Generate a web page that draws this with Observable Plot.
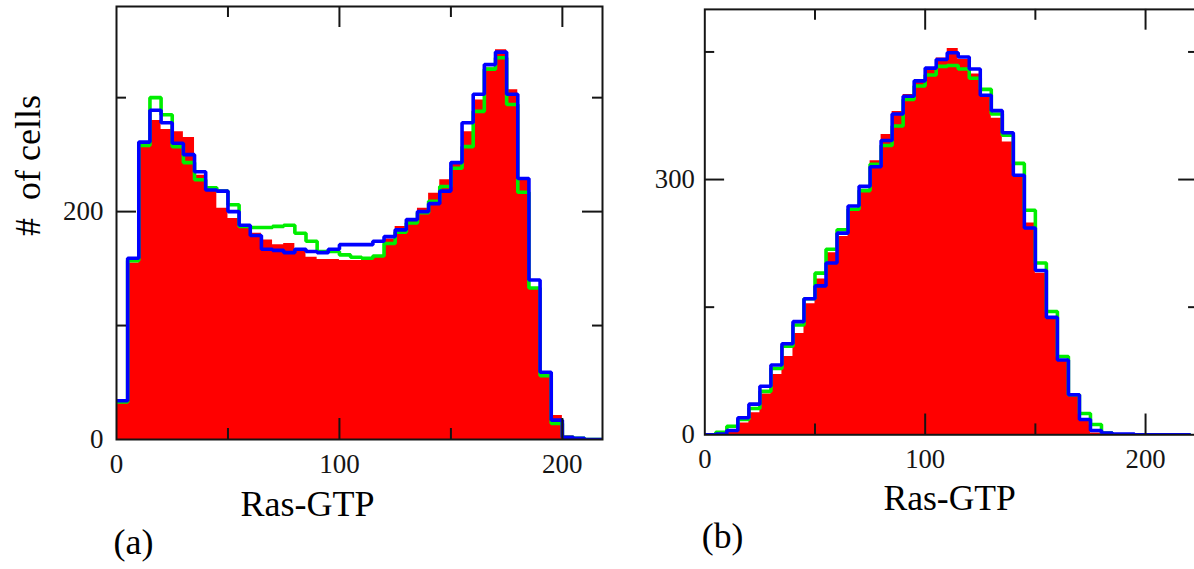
<!DOCTYPE html>
<html><head><meta charset="utf-8">
<script src="https://cdn.jsdelivr.net/npm/d3@7"></script>
<script src="https://cdn.jsdelivr.net/npm/@observablehq/plot@0.6"></script>
<style>
html,body{margin:0;padding:0;background:#fff;width:1194px;height:569px;overflow:hidden;}
#wrap{position:relative;width:1194px;height:569px;overflow:hidden;background:#fff;}
.panel{position:absolute;top:0;}
svg text{white-space:pre;font-family:"Liberation Serif","Tinos","Times New Roman","DejaVu Serif",serif !important;}
</style></head>
<body><div id="wrap"><div class="panel" id="pa" style="left:0px"></div><div class="panel" id="pb" style="left:640px"></div></div>
<script>
// Histogram bins (Ras-GTP), bin start values, and the closing edge of the last bin
const binStarts = [0,5,10,15,20,25,30,35,40,45,50,55,60,65,70,75,80,85,90,95,100,105,110,115,120,125,130,135,140,145,150,155,160,165,170,175,180,185,190,195,200,205,210,215];
const binEndEdge = 220;

// Panel (a): # of cells per bin
const aRed   = [32,155,258,280,272,270,265,232,222,203,194,188,181,175,171,172,166,160,158,158,157,157,159,160,176,187,194,203,216,228,244,270,298,326,342,307,229,133,56,21,3,1,0,0];
const aGreen = [33,157,258,300,285,257,243,228,221,218,206,187,186,186,187,188,181,174,165,165,162,160,159,161,172,182,190,199,209,222,238,257,288,325,335,294,217,133,56,14,2,1,0,0];
const aBlue  = [34,159,261,289,278,260,250,235,219,218,200,188,179,167,166,164,167,165,164,167,171,171,171,174,178,184,193,200,207,218,243,278,303,329,340,303,229,140,59,17,2,1,0,0];

// Panel (b): # of cells per bin
const bRed   = [0,0,3,14,26,48,71,92,119,154,183,214,233,263,288,322,353,380,400,414,430,443,454,441,424,398,372,344,305,249,190,136,86,47,18,2,0,0,0,0,0,0,0,0];
const bGreen = [0,3,10,18,31,51,78,104,129,160,190,218,241,265,287,318,340,363,394,410,423,433,434,430,419,406,377,352,319,264,202,145,92,47,25,12,2,0,0,0,0,0,0,0];
const bBlue  = [0,1,5,20,36,57,82,107,133,160,175,202,237,269,292,315,346,377,398,416,431,441,449,444,430,399,381,355,305,243,193,138,88,47,18,5,2,1,1,0,0,0,0,0];

// Axis ticks and labels
const aXMajor = [100,200], aXMinor = [50,150], aXLabels = [0,100,200];
const aYMajor = [200], aYMinor = [100,300], aYLabels = [0,200];
const bXMajor = [100,200], bXMinor = [50,150], bXLabels = [0,100,200];
const bYMajor = [300], bYMinor = [150,450], bYLabels = [0,300];

const xTitle = "Ras-GTP";
const yTitle = "#  of cells";
const tagA = "(a)", tagB = "(b)";

const FONT = '"Liberation Serif", Tinos, "Times New Roman", "DejaVu Serif", serif';
const INK = "#151515";

function steps(vals) {
  const pts = binStarts.map((x, i) => ({x, y: vals[i]}));
  pts.push({x: binEndEdge, y: vals[vals.length - 1]});
  return pts;
}

function panel(o) {
  const H = o.height - o.mt - o.mb;
  const xs = d3.scaleLinear().domain(o.xDomain).range([o.ml, o.width - o.mr]);
  const W = xs(o.xDomain[1]) - xs(o.xDomain[0]);
  const tk = {stroke: INK, strokeWidth: 2};
  const tx = {fontFamily: FONT};
  const marks = [
    Plot.areaY(steps(o.red), {x: "x", y: "y", curve: "step-after", fill: "#ff0000", clip: true}),
    Plot.lineY(steps(o.green), {x: "x", y: "y", curve: "step-after", stroke: "#00ee00", strokeWidth: 3.6, strokeLinejoin: "miter", clip: true}),
    Plot.lineY(steps(o.blue), {x: "x", y: "y", curve: "step-after", stroke: "#0000ff", strokeWidth: 3.6, strokeLinejoin: "miter", clip: true}),
    Plot.tickX(o.xMajor, {x: d => d, insetTop: H - 21, ...tk}),
    Plot.tickX(o.xMajor, {x: d => d, insetBottom: H - 21, ...tk}),
    Plot.tickX(o.xMinor, {x: d => d, insetTop: H - 11, ...tk}),
    Plot.tickX(o.xMinor, {x: d => d, insetBottom: H - 11, ...tk}),
    Plot.tickY(o.yMajor, {y: d => d, insetRight: W - 20, ...tk}),
    Plot.tickY(o.yMajor, {y: d => d, insetLeft: W - 20, ...tk}),
    Plot.tickY(o.yMinor, {y: d => d, insetRight: W - 10, ...tk}),
    Plot.tickY(o.yMinor, {y: d => d, insetLeft: W - 10, ...tk}),
    Plot.frame({stroke: INK, strokeWidth: 2}),
    Plot.text(o.xLabels, {x: d => d, frameAnchor: "bottom", lineAnchor: "top", dy: 14, fontSize: 27, fill: INK, ...tx}),
    Plot.text(o.yLabels, {y: d => d, frameAnchor: "left", textAnchor: "end", dx: -o.yPad, fontSize: 27, fill: INK, ...tx}),
    Plot.text([xTitle], {frameAnchor: "bottom", lineAnchor: "bottom", dx: o.titleDx, dy: 76, fontSize: 36, fill: "#000", ...tx}),
    Plot.text([o.tag], {frameAnchor: "bottom-left", textAnchor: "start", lineAnchor: "bottom", dx: -3, dy: 114, fontSize: 36, fill: "#000", ...tx})
  ];
  if (o.showYTitle) {
    marks.push(Plot.text([yTitle], {frameAnchor: "top-left", rotate: -90, textAnchor: "middle", lineAnchor: "middle", dx: -88, dy: 165 - o.mt, fontSize: 36, fill: "#000", ...tx}));
  }
  return Plot.plot({
    width: o.width, height: o.height,
    marginLeft: o.ml, marginRight: o.mr, marginTop: o.mt, marginBottom: o.mb,
    x: {domain: o.xDomain, axis: null},
    y: {domain: o.yDomain, axis: null},
    style: {fontFamily: FONT, background: "transparent", overflow: "visible"},
    marks
  });
}

document.getElementById("pa").append(panel({
  red: aRed, green: aGreen, blue: aBlue,
  xDomain: [0, 218], yDomain: [0, 380],
  width: 620, height: 569, ml: 116, mr: 18, mt: 6, mb: 130,
  xMajor: aXMajor, xMinor: aXMinor, xLabels: aXLabels,
  yMajor: aYMajor, yMinor: aYMinor, yLabels: aYLabels,
  yPad: 13, titleDx: -52, tag: tagA, showYTitle: true
}));

document.getElementById("pb").append(panel({
  red: bRed, green: bGreen, blue: bBlue,
  xDomain: [0, 224], yDomain: [0, 500],
  width: 560, height: 569, ml: 65, mr: -4, mt: 9, mb: 130,
  xMajor: bXMajor, xMinor: bXMinor, xLabels: bXLabels,
  yMajor: bYMajor, yMinor: bYMinor, yLabels: bYLabels,
  yPad: 10, titleDx: -2, tag: tagB, showYTitle: false
}));
</script>
</body></html>
